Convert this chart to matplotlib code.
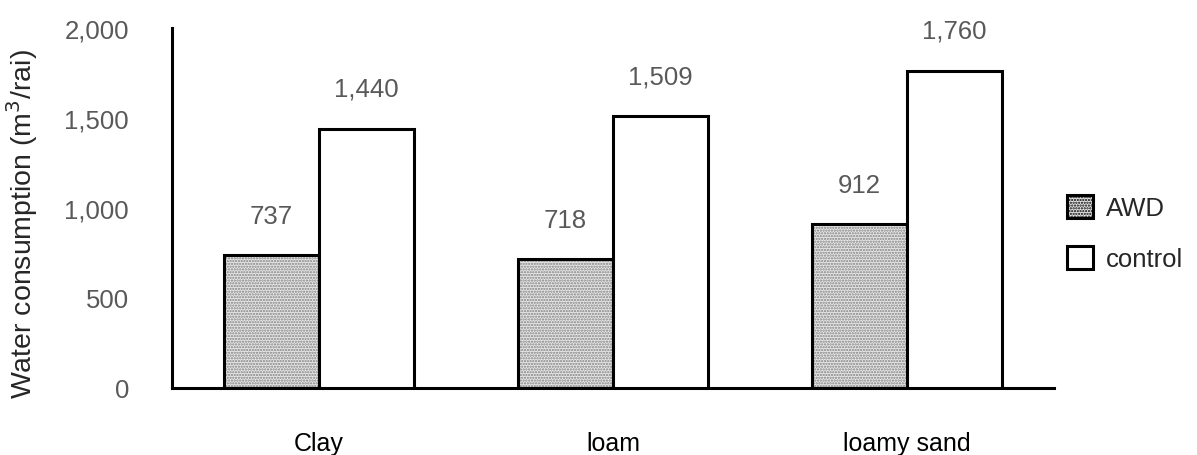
import matplotlib
matplotlib.use("Agg")
import matplotlib.pyplot as plt
import numpy as np
from matplotlib.patches import Patch

plt.rcParams['font.family'] = ['Liberation Sans', 'DejaVu Sans']
plt.rcParams['hatch.linewidth'] = 1.1

categories = ["Clay", "loam", "loamy sand"]
awd = [737, 718, 912]
control = [1440, 1509, 1760]
series_names = ["AWD", "control"]
yticks = [0, 500, 1000, 1500, 2000]

fig = plt.figure(figsize=(11.97, 4.56), dpi=100)
ax = fig.add_axes([172/1197, 67/456, (1054-172)/1197, 360/456])

x = np.arange(len(categories))
w = 0.323
lw = 2.2

ax.bar(x - w/2, awd, w, color='#e8e8e8', edgecolor='#808080', hatch='......', linewidth=0, zorder=2)
ax.bar(x - w/2, awd, w, fill=False, edgecolor='black', linewidth=lw, zorder=3)
ax.bar(x + w/2, control, w, color='white', edgecolor='black', linewidth=lw, zorder=3)

lab_color = '#595959'
for xi, v in zip(x - w/2, awd):
    ax.annotate(f"{v:,}", (xi, v), xytext=(0, 28), textcoords='offset points',
                ha='center', va='center', fontsize=18.5, color=lab_color)
for xi, v in zip(x + w/2, control):
    ax.annotate(f"{v:,}", (xi, v), xytext=(0, 29), textcoords='offset points',
                ha='center', va='center', fontsize=18.5, color=lab_color)

ax.set_xlim(-0.5, 2.5)
ax.set_ylim(0, 2000)
ax.set_yticks(yticks)
ax.set_yticklabels([f"{t:,}" for t in yticks], fontsize=18.5, color=lab_color)
ax.set_xticks(x)
ax.set_xticklabels(categories, fontsize=18, color='black')
ax.tick_params(axis='y', length=0, pad=31)
ax.tick_params(axis='x', length=0, pad=31)
for s in ['top', 'right']:
    ax.spines[s].set_visible(False)
for s in ['left', 'bottom']:
    ax.spines[s].set_linewidth(lw)
    ax.spines[s].set_color('black')

ax.set_ylabel("Water consumption (m$^3$/rai)", fontsize=20.5, color='#262626')
ax.yaxis.set_label_coords((22 - 172) / 882, (389 - 224) / 360)
ax.yaxis.label.set_va('center')

handles = [Patch(facecolor='#e8e8e8', edgecolor='black', hatch='......', linewidth=lw),
           Patch(facecolor='white', edgecolor='black', linewidth=lw)]
leg = fig.legend(handles, series_names, loc='center left', bbox_to_anchor=(1044/1197, 1-234/456),
                 frameon=False, fontsize=18.5, handlelength=1.0, handleheight=1.0,
                 labelspacing=1.0, handletextpad=0.5)
for t in leg.get_texts():
    t.set_color('#262626')

fig.savefig("out.png", dpi=100)
